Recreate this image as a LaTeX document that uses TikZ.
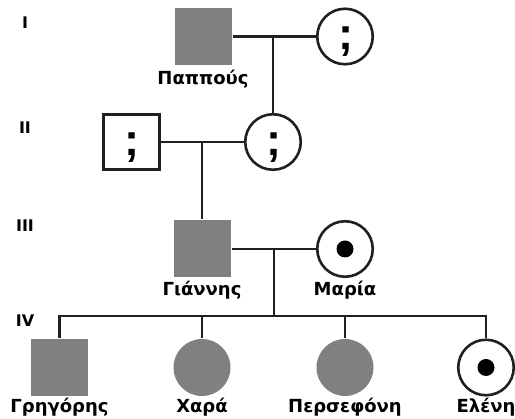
\documentclass[tikz,border=0pt]{standalone}
\usepackage{fontspec}
\setmainfont{DejaVu Sans}
\newfontfamily\semifont{Liberation Sans}
\definecolor{ink}{HTML}{231F20}
\definecolor{aff}{HTML}{808083}
\begin{document}
\begin{tikzpicture}[x=1pt,y=1pt,
  line width=2.6pt, draw=ink,
  affsq/.style={rectangle, fill=aff, draw=none, minimum size=57pt, inner sep=0pt},
  affci/.style={circle, fill=aff, draw=none, minimum size=57pt, inner sep=0pt},
  unsq/.style={rectangle, draw=ink, line width=2.6pt, fill=white, minimum size=55.5pt, inner sep=0pt},
  unci/.style={circle, draw=ink, line width=2.6pt, fill=white, minimum size=55.5pt, inner sep=0pt},
  lbl/.style={font=\fontsize{18}{18}\selectfont\bfseries, anchor=base, text=black, inner sep=0pt},
  genlbl/.style={font=\fontsize{16}{16}\selectfont\bfseries, anchor=base, text=black, inner sep=0pt},
  semi/.style={font=\semifont\fontsize{45}{45}\selectfont\bfseries, anchor=base, inner sep=0pt, text=black},
  carrier/.style={circle, fill=black, draw=none, minimum size=17pt, inner sep=0pt},
]
\clip (0,-419) rectangle (515,0);
% generation labels
\node[genlbl] (gI) at (25,-29) {I};
\node[genlbl] (gII) at (25,-134) {II};
\node[genlbl] (gIII) at (25,-232) {III};
\node[genlbl] (gIV) at (25,-327) {IV};
% generation I
\node[affsq] (sqI) at (203.5,-36.5) {};
\node[unci] (ciI) at (345,-36.5) {};
\node[semi] (qI) at (345.5,-50) {;};
\node[lbl] (lI) at (203,-85) {Παππούς};
% generation II
\node[unsq] (sqII) at (131.5,-142) {};
\node[semi] (qII) at (132,-155.5) {;};
\node[unci] (ciII) at (273,-142) {};
\node[semi] (qIIb) at (273.5,-155.5) {;};
% generation III
\node[affsq] (sqIII) at (202,-249) {};
\node[unci] (ciIII) at (345,-249) {};
\node[carrier] (dIII) at (345,-249) {};
\node[lbl] (lIIIa) at (202,-296) {Γιάννης};
\node[lbl] (lIIIb) at (345,-296) {Μαρία};
% generation IV
\node[affsq] (c1) at (59.5,-367.5) {};
\node[affci] (c2) at (202,-367.5) {};
\node[affci] (c3) at (345,-367.5) {};
\node[unci] (c4) at (486,-367.5) {};
\node[carrier] (d4) at (486,-367.5) {};
\node[lbl] (l1) at (59.5,-413) {Γρηγόρης};
\node[lbl] (l2) at (202,-413) {Χαρά};
\node[lbl] (l3) at (345,-413) {Περσεφόνη};
\node[lbl] (l4) at (486,-413) {Ελένη};
% connectors
\coordinate (mI) at (ciII |- sqI);
\draw (sqI.east) -- (ciI.west);
\draw (mI) -- (ciII.north);
\coordinate (mII) at (sqIII |- sqII);
\draw (sqII.east) -- (ciII.west);
\draw (mII) -- (sqIII.north);
\coordinate (mIII) at (274,-249);
\coordinate (sib) at (274,-316);
\draw (sqIII.east) -- (ciIII.west);
\draw (mIII) -- (sib);
\coordinate (s1) at (c1 |- sib);
\coordinate (s4) at (c4 |- sib);
\draw (c1.north) -- (s1) -- (s4) -- (c4.north);
\draw (c2.north) -- (c2 |- sib);
\draw (c3.north) -- (c3 |- sib);
\end{tikzpicture}
\end{document}
